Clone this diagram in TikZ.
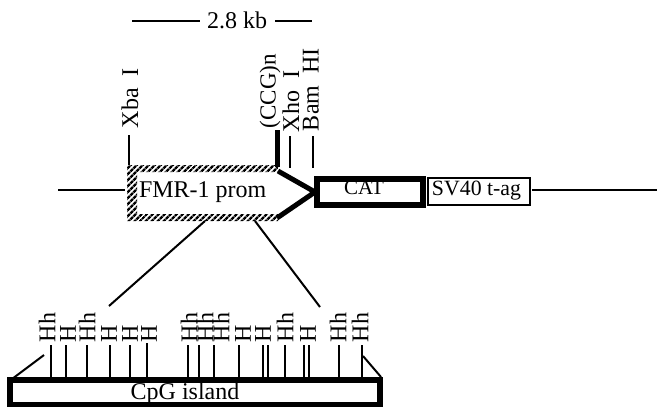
\documentclass[tikz,border=0pt]{standalone}
\usepackage{fontspec}
\setmainfont{Liberation Serif}
\usetikzlibrary{patterns.meta}
\tikzset{
  x=1pt,y=-1pt,
  lbl/.style={inner sep=0pt,outer sep=0pt,font=\fontsize{24}{24}\selectfont},
  vlbl/.style={lbl,rotate=90,anchor=west},
  site/.style={lbl,rotate=90,anchor=west},
  tick/.style={line width=1.6pt},
  thin line/.style={line width=1.6pt},
  boxn/.style={draw,inner sep=0pt,outer sep=0pt,anchor=north west},
}
\begin{document}
\begin{tikzpicture}
\useasboundingbox (0,0) rectangle (657,408);
% scale bar
\node[lbl] (kb) at (237,20) {2.8 kb};
\coordinate (kbl) at (132,21); \coordinate (kbr) at (312,21);
\coordinate (kbm) at (200,21); \coordinate (kbn) at (275,21);
\draw[thin line] (kbl) -- (kbm); \draw[thin line] (kbn) -- (kbr);
% backbone
\coordinate (bl) at (58,190); \coordinate (pl) at (125,190);
\coordinate (br) at (657,190); \coordinate (sr) at (532,190);
\draw[thin line] (bl) -- (pl); \draw[thin line] (sr) -- (br);
% promoter hatch frame
\fill[pattern={Lines[angle=45,distance=4pt,line width=2.6pt]},pattern color=black,even odd rule]
  (127,165) -- (278,165) -- (278,172) -- (137,172) -- (137,214) -- (278,214) -- (278,221) -- (127,221) -- cycle;
\node[lbl,anchor=west] (prom) at (139,192) {FMR-1 prom};
% junction
\coordinate (ja) at (278,171); \coordinate (jb) at (315,192); \coordinate (jc) at (277,218);
\draw[line width=5pt,miter limit=10] (ja) -- (jb) -- (jc);
% boxes
\node[boxn,line width=6pt,minimum width=106pt,minimum height=26pt] (cat) at (317,178.5) {};
\node[lbl,anchor=center,font=\fontsize{21}{21}\selectfont] (catt) at (364,188) {CAT};
\node[boxn,line width=2pt,minimum width=102pt,minimum height=27pt] (sv) at (428,178) {};
\node[lbl,anchor=center,font=\fontsize{21.8}{22}\selectfont] (svt) at (476.5,191) {SV40 t-ag};
% top labels
\coordinate (xa) at (129,135); \coordinate (xb) at (129,165);
\draw[thin line] (xa) -- (xb);
\node[vlbl] (xba) at (130,128) {Xba\ \ I};
\coordinate (ca) at (277,130); \coordinate (cb) at (277,167);
\draw[line width=5pt] (ca) -- (cb);
\node[vlbl,font=\fontsize{23}{23}\selectfont] (ccg) at (270,128) {(CCG)n};
\coordinate (ha) at (290,136); \coordinate (hb) at (290,168);
\draw[thin line] (ha) -- (hb);
\node[vlbl] (xho) at (291,132) {Xho\ \ I};
\coordinate (ma) at (313,136); \coordinate (mb) at (313,168);
\draw[thin line] (ma) -- (mb);
\node[vlbl] (bam) at (311,131) {Bam\ \ HI};
% zoom lines
\coordinate (za) at (205,221); \coordinate (zb) at (109,306);
\coordinate (zc) at (255,221); \coordinate (zd) at (320,307);
\draw[line width=2pt] (za) -- (zb);
\draw[line width=2pt] (zc) -- (zd);
% CpG box
\node[boxn,line width=5.5pt,minimum width=370pt,minimum height=24.5pt] (cpg) at (10,380) {};
\node[lbl,anchor=center] (cpgt) at (185,394) {CpG island};
\coordinate (ea) at (12,379); \coordinate (eb) at (44,355);
\coordinate (ec) at (363,356); \coordinate (ed) at (381,377);
\draw[line width=2pt] (ea) -- (eb);
\draw[line width=2pt] (ec) -- (ed);
% ticks
\foreach \x/\t in {51/345,66/345,87/345,110/345,130/345,147/343,188/345,199/345,214/345,239/345,263/345,268/345,285/345,304/345,309/345,339/345,362/345}
  \draw[tick] (\x,\t) -- (\x,378);
% site labels
\foreach \x/\s in {47/Hh,68/H,87/Hh,109/H,130/H,149/H,189/Hh,205/Hh,221/Hh,243/H,263/H,285/Hh,308/H,338/Hh,360/Hh}
  \node[site] at (\x,342) {\s};
\end{tikzpicture}
\end{document}
